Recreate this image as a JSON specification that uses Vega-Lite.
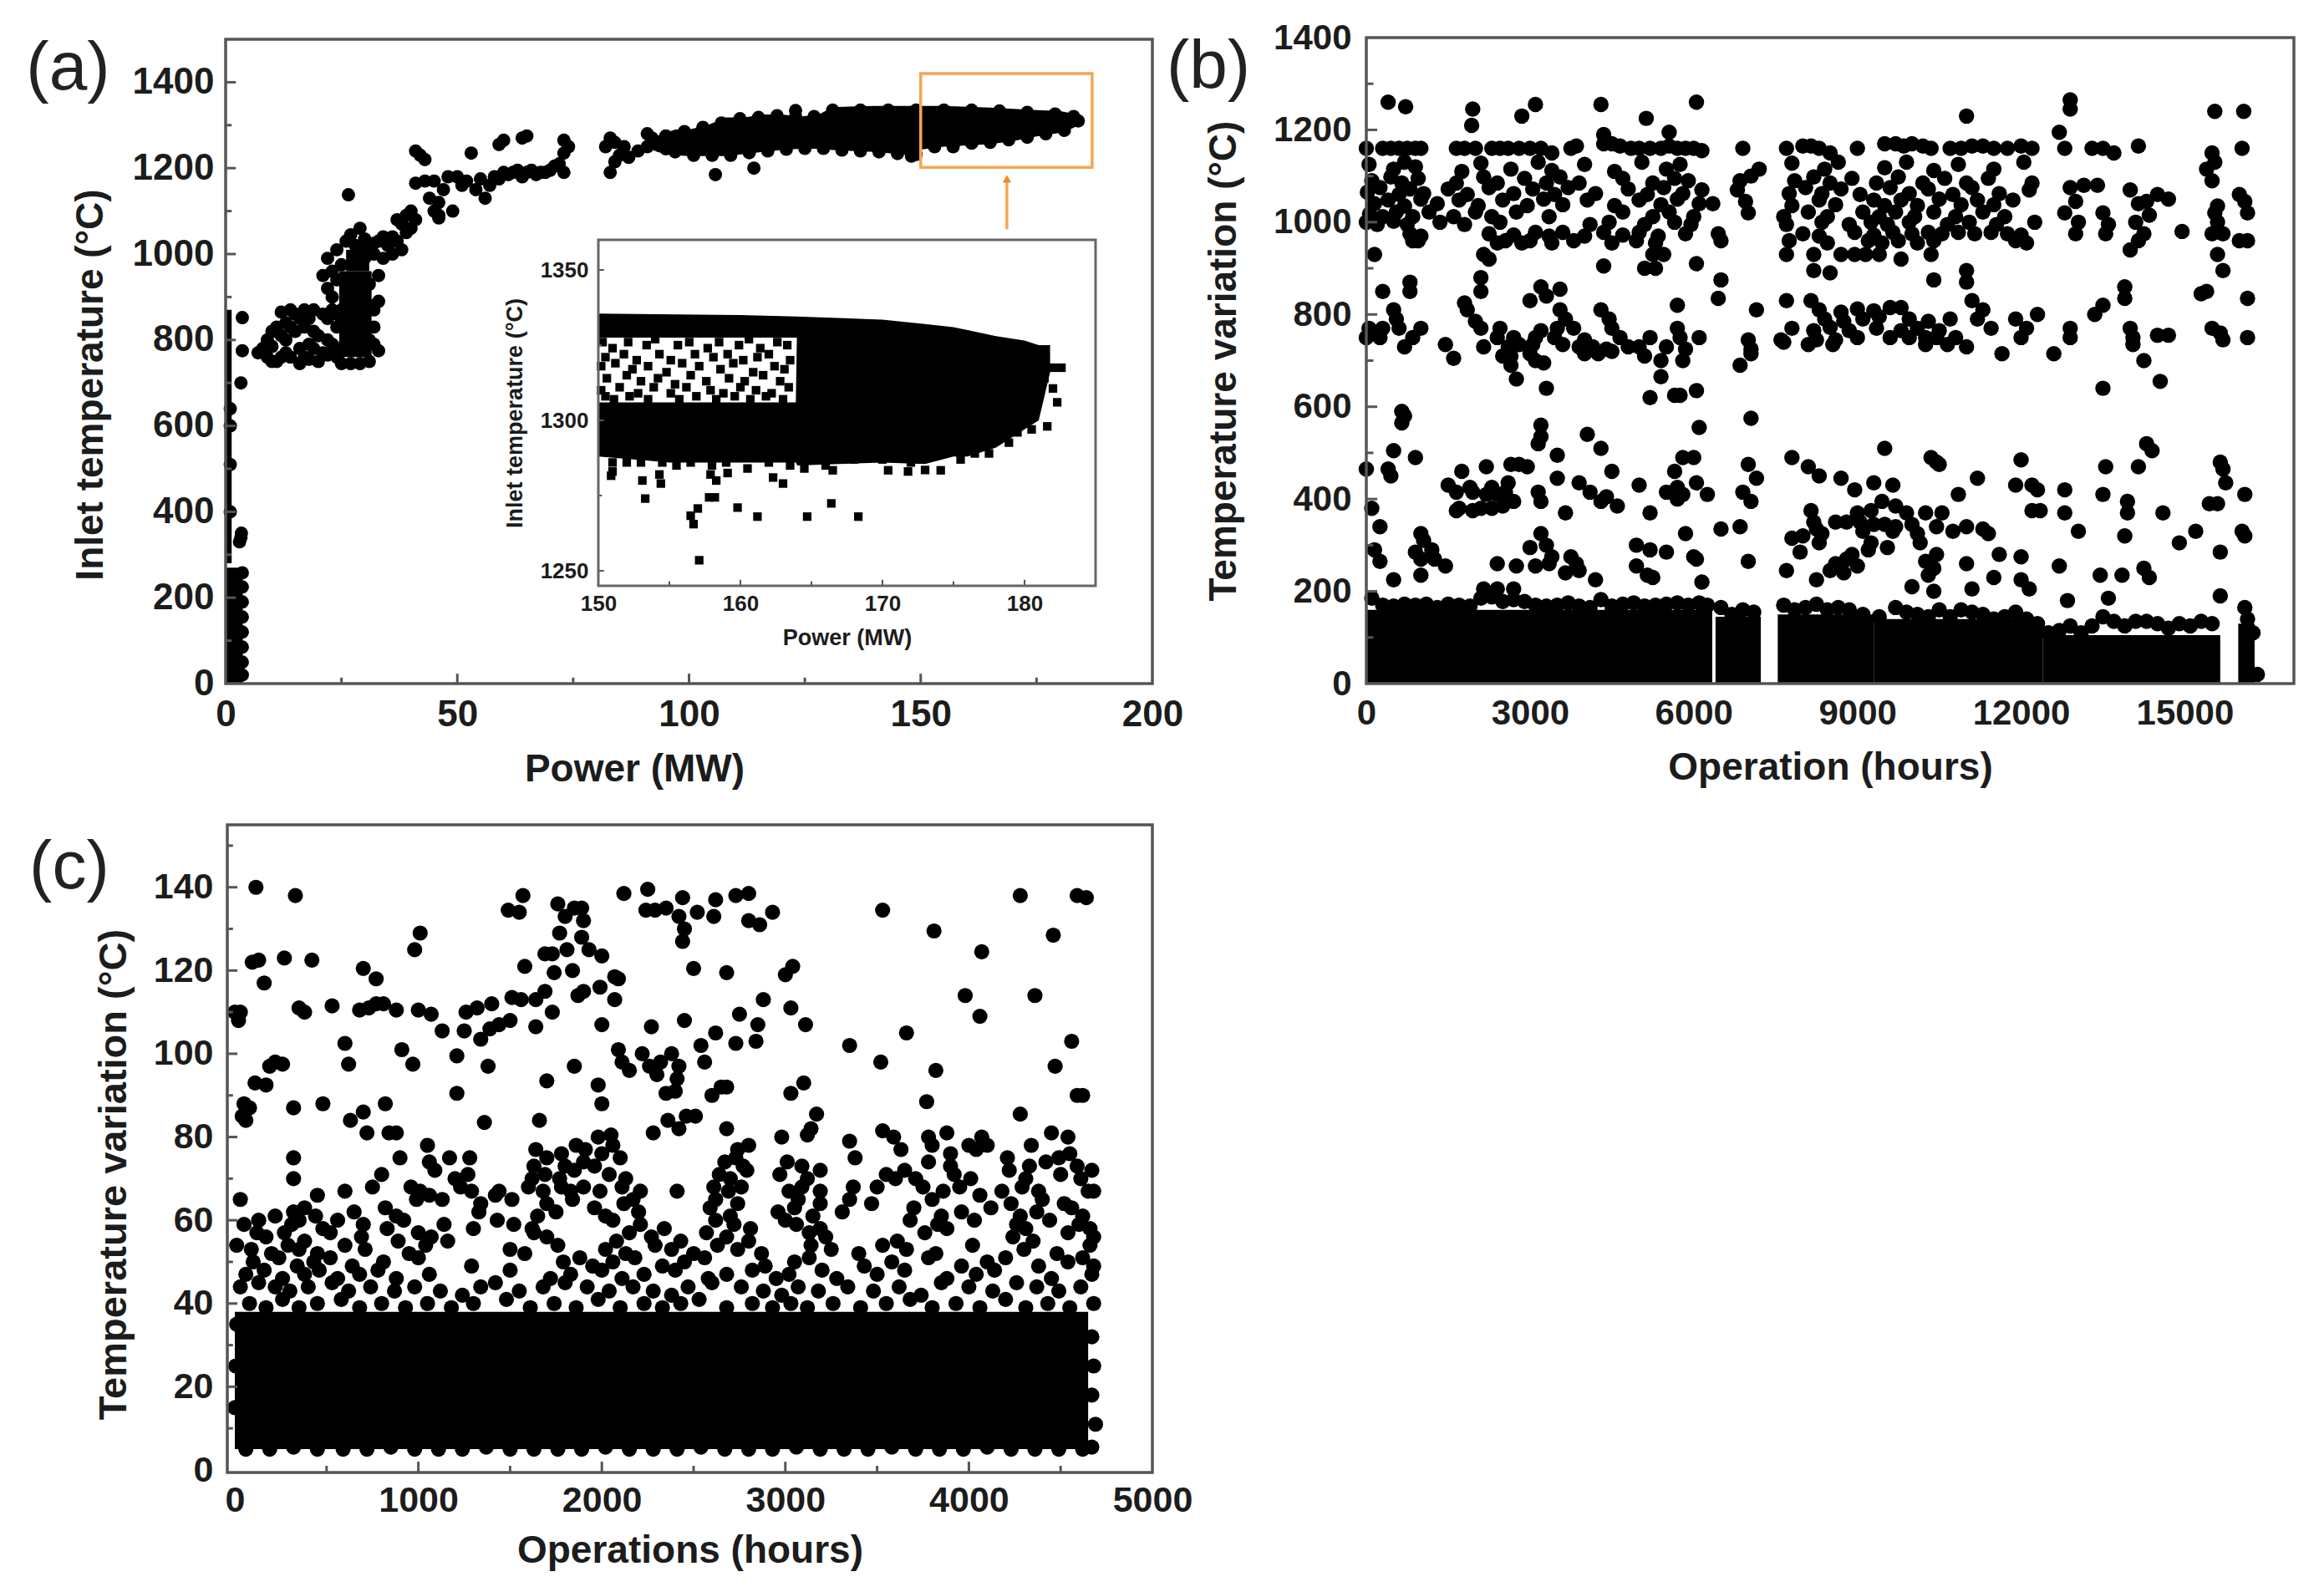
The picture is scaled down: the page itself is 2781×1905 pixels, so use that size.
{"$schema":"https://vega.github.io/schema/vega-lite/v6.json","width":2781,"height":1905,"padding":0,"autosize":{"type":"none"},"background":"white","config":{"view":{"stroke":null},"rule":{"color":"#555555","strokeWidth":3},"axis":{"grid":false,"domain":false,"ticks":false,"format":"d","labelFont":"Liberation Sans","labelFontWeight":"bold","labelFontSize":43,"labelColor":"#1c1c1c","titleFont":"Liberation Sans","titleFontWeight":"bold","titleFontSize":46,"titleColor":"#1c1c1c","labelOverlap":false,"labelFlush":false}},
"resolve":{"scale":{"x":"independent","y":"independent"},"axis":{"x":"independent","y":"independent"}},
"datasets":{
"aPts":[{"x":3.6,"y":852},{"x":3.6,"y":775},{"x":3.3,"y":700},{"x":3.4,"y":350},{"x":3.3,"y":340},{"x":3,"y":330},{"x":1,"y":640},{"x":1,"y":600},{"x":1,"y":510},{"x":1,"y":400},{"x":3.6,"y":20},{"x":3.6,"y":50},{"x":3.6,"y":85},{"x":3.6,"y":120},{"x":3.6,"y":155},{"x":3.6,"y":190},{"x":3.6,"y":225},{"x":3.6,"y":258},{"x":7,"y":770},{"x":9,"y":760},{"x":10,"y":785},{"x":11,"y":830},{"x":12,"y":865},{"x":13,"y":800},{"x":11,"y":750},{"x":14,"y":760},{"x":14,"y":870},{"x":15,"y":820},{"x":16,"y":780},{"x":16,"y":745},{"x":17,"y":760},{"x":18,"y":850},{"x":18,"y":790},{"x":19,"y":870},{"x":20,"y":750},{"x":20,"y":810},{"x":21,"y":770},{"x":21,"y":860},{"x":22,"y":800},{"x":10,"y":750},{"x":12,"y":760},{"x":13,"y":840},{"x":15,"y":860},{"x":17,"y":830},{"x":19,"y":780},{"x":8,"y":780},{"x":22,"y":850},{"x":23,"y":870},{"x":24,"y":860},{"x":25,"y":840},{"x":24,"y":760},{"x":25,"y":745},{"x":27,"y":745},{"x":29,"y":745},{"x":31,"y":750},{"x":33,"y":775},{"x":23,"y":790},{"x":24,"y":780},{"x":33,"y":890},{"x":31,"y":880},{"x":30,"y":860},{"x":32,"y":830},{"x":31,"y":800},{"x":24,"y":830},{"x":25,"y":870},{"x":22,"y":920},{"x":21,"y":950},{"x":22,"y":990},{"x":23,"y":960},{"x":24,"y":1010},{"x":26,"y":1030},{"x":28,"y":1020},{"x":30,"y":1010},{"x":29,"y":1060},{"x":26.5,"y":1138},{"x":30,"y":990},{"x":32,"y":1000},{"x":33,"y":1030},{"x":34,"y":990},{"x":35,"y":1020},{"x":36,"y":1000},{"x":37,"y":1030},{"x":38,"y":1010},{"x":39,"y":1050},{"x":38,"y":1070},{"x":39,"y":1090},{"x":40,"y":1060},{"x":40,"y":1100},{"x":41,"y":1080},{"x":37,"y":1080},{"x":41,"y":1165},{"x":43,"y":1170},{"x":44,"y":1130},{"x":45,"y":1170},{"x":46,"y":1120},{"x":47,"y":1150},{"x":48,"y":1180},{"x":49,"y":1100},{"x":50,"y":1180},{"x":51,"y":1160},{"x":52,"y":1170},{"x":46,"y":1090},{"x":45,"y":1100},{"x":46,"y":1084},{"x":54,"y":1150},{"x":55,"y":1175},{"x":56,"y":1130},{"x":57,"y":1160},{"x":58,"y":1180},{"x":59,"y":1175},{"x":60,"y":1190},{"x":61,"y":1185},{"x":62,"y":1190},{"x":63,"y":1195},{"x":64,"y":1180},{"x":65,"y":1190},{"x":66,"y":1195},{"x":67,"y":1185},{"x":68,"y":1190},{"x":69,"y":1190},{"x":70,"y":1195},{"x":71,"y":1205},{"x":72,"y":1210},{"x":73,"y":1190},{"x":41,"y":1240},{"x":42,"y":1230},{"x":43,"y":1220},{"x":53,"y":1235},{"x":59,"y":1255},{"x":60,"y":1265},{"x":64,"y":1270},{"x":65,"y":1275},{"x":73,"y":1265},{"x":74,"y":1250},{"x":73,"y":1235},{"x":82,"y":1250},{"x":84,"y":1260},{"x":83,"y":1270},{"x":83,"y":1190},{"x":84,"y":1215},{"x":85,"y":1230},{"x":86,"y":1250},{"x":87,"y":1225},{"x":89,"y":1240},{"x":91,"y":1250},{"x":91,"y":1280},{"x":92,"y":1270},{"x":93,"y":1255},{"x":95,"y":1245},{"x":96,"y":1260},{"x":105.7,"y":1185},{"x":114,"y":1200},{"x":123,"y":1334},{"x":157,"y":1250},{"x":148,"y":1228},
{"x":23,"y":900},{"x":24,"y":940},{"x":25,"y":975},{"x":32,"y":870},{"x":32,"y":790},{"x":22,"y":765},{"x":30,"y":1035},{"x":32,"y":1025},{"x":34,"y":1040},{"x":36,"y":1040},{"x":33,"y":950},{"x":31,"y":930},{"x":27,"y":1045},{"x":9,"y":800},{"x":12,"y":810},{"x":14,"y":830},{"x":16,"y":850},{"x":17,"y":870},{"x":19,"y":820},{"x":10,"y":820},{"x":13,"y":770},{"x":18,"y":755},
{"x":95,"y":1275},{"x":99,"y":1285},{"x":103,"y":1295},{"x":107,"y":1305},{"x":111,"y":1315},{"x":115,"y":1318},{"x":119,"y":1322},{"x":123,"y":1320},{"x":127,"y":1320},{"x":131,"y":1335},{"x":137,"y":1335},{"x":143,"y":1335},{"x":149,"y":1335},{"x":155,"y":1335},{"x":161,"y":1335},{"x":167,"y":1333},{"x":173,"y":1330},{"x":179,"y":1326},{"x":183,"y":1320},{"x":97,"y":1238},{"x":101,"y":1230},{"x":105,"y":1230},{"x":109,"y":1230},{"x":113,"y":1236},{"x":117,"y":1240},{"x":121,"y":1244},{"x":125,"y":1246},{"x":129,"y":1246},{"x":133,"y":1242},{"x":137,"y":1240},{"x":141,"y":1238},{"x":145,"y":1234},{"x":149,"y":1232},{"x":153,"y":1250},{"x":157,"y":1256},{"x":161,"y":1258},{"x":165,"y":1260},{"x":169,"y":1266},{"x":173,"y":1272},{"x":177,"y":1280},{"x":181,"y":1288},{"x":184,"y":1310}],
"aBand":[{"g":1,"x":93,"y":1238,"y2":1275},{"g":1,"x":97,"y":1230,"y2":1290},{"g":1,"x":100,"y":1228,"y2":1290},{"g":1,"x":104,"y":1228,"y2":1300},{"g":1,"x":108,"y":1228,"y2":1318},{"g":1,"x":112,"y":1233,"y2":1318},{"g":1,"x":116,"y":1238,"y2":1325},{"g":1,"x":120,"y":1242,"y2":1325},{"g":1,"x":124,"y":1245,"y2":1320},{"g":1,"x":128,"y":1245,"y2":1325},{"g":1,"x":131,"y":1242,"y2":1342},{"g":1,"x":140,"y":1238,"y2":1345},{"g":1,"x":148,"y":1230,"y2":1345},{"g":1,"x":150,"y":1243,"y2":1345},{"g":1,"x":155,"y":1250,"y2":1345},{"g":1,"x":160,"y":1253,"y2":1343},{"g":1,"x":165,"y":1256,"y2":1341},{"g":1,"x":170,"y":1263,"y2":1338},{"g":1,"x":175,"y":1274,"y2":1335},{"g":1,"x":180,"y":1282,"y2":1333},{"g":1,"x":183,"y":1294,"y2":1327},{"g":1,"x":184.5,"y":1305,"y2":1318}],
"aRect":[{"x":0,"x2":1.3,"y":280,"y2":870},{"x":0,"x2":3.7,"y":0,"y2":270},{"x":24.5,"x2":31.5,"y":760,"y2":960},{"x":26,"x2":31,"y":960,"y2":1010}],
"iPts":[{"x":157.1,"y":1253.5},{"x":156.7,"y":1265.5},{"x":156.5,"y":1268.3},{"x":157,"y":1270.7},{"x":157.8,"y":1274.4},{"x":158.2,"y":1274.4},{"x":153.3,"y":1274},{"x":153.1,"y":1280},{"x":154.4,"y":1279},{"x":154.3,"y":1282},{"x":159.8,"y":1271},{"x":161.2,"y":1268},{"x":164.7,"y":1268},{"x":166.4,"y":1272.4},{"x":168.3,"y":1268},{"x":162.3,"y":1281},{"x":163,"y":1279},{"x":159.1,"y":1282.5},{"x":158.3,"y":1280},{"x":157.9,"y":1282},{"x":151,"y":1283},{"x":150.9,"y":1281.6},{"x":170.4,"y":1283.4},{"x":171.8,"y":1283},{"x":173,"y":1283.5},{"x":174.1,"y":1283.4},{"x":166.5,"y":1283.4},{"x":181.6,"y":1298},{"x":182.3,"y":1306},{"x":182,"y":1310.6},{"x":181.4,"y":1314},{"x":182,"y":1317.5},{"x":182.6,"y":1317.5},{"x":178.9,"y":1292.6},{"x":151,"y":1286},{"x":152,"y":1286},{"x":153,"y":1286},{"x":154.5,"y":1286},{"x":155.5,"y":1285},{"x":156.5,"y":1286},{"x":158,"y":1285},{"x":159,"y":1286},{"x":160.5,"y":1284},{"x":162,"y":1286},{"x":163.5,"y":1285},{"x":164.5,"y":1284},{"x":166,"y":1285},{"x":168,"y":1287},{"x":170,"y":1287},{"x":172,"y":1286},{"x":175.5,"y":1287},{"x":176.5,"y":1289},{"x":177.5,"y":1289},{"x":179.5,"y":1296},{"x":180.5,"y":1297},{"x":150.3,"y":1326},{"x":151,"y":1324},{"x":152.1,"y":1326},{"x":153.4,"y":1325},{"x":154,"y":1327},{"x":155.6,"y":1325},{"x":156.4,"y":1326},{"x":157.7,"y":1324},{"x":158.5,"y":1326},{"x":159.9,"y":1325},{"x":160.6,"y":1327},{"x":161.4,"y":1324},{"x":162.6,"y":1326},{"x":163.3,"y":1325},{"x":150.5,"y":1321},{"x":151.8,"y":1322},{"x":152.7,"y":1320},{"x":154.3,"y":1322},{"x":155.1,"y":1320},{"x":156.8,"y":1322},{"x":158.1,"y":1321},{"x":159.1,"y":1322},{"x":160.2,"y":1320},{"x":161.2,"y":1321},{"x":162,"y":1322},{"x":163.5,"y":1320},{"x":150.2,"y":1318},{"x":151.2,"y":1319},{"x":152.4,"y":1317},{"x":153.5,"y":1318},{"x":154.8,"y":1316},{"x":155.9,"y":1319},{"x":157.1,"y":1318},{"x":158.6,"y":1317},{"x":159.5,"y":1319},{"x":160.9,"y":1316},{"x":162.4,"y":1318},{"x":163.1,"y":1317},{"x":150.6,"y":1314},{"x":152,"y":1315},{"x":153,"y":1313},{"x":154.2,"y":1314},{"x":155.4,"y":1312},{"x":156.5,"y":1315},{"x":157.6,"y":1313},{"x":159.2,"y":1314},{"x":160.3,"y":1313},{"x":161.6,"y":1315},{"x":162.8,"y":1313},{"x":150.2,"y":1310},{"x":151.5,"y":1311},{"x":152.8,"y":1309},{"x":153.9,"y":1311},{"x":155.1,"y":1309},{"x":156.2,"y":1311},{"x":157.9,"y":1310},{"x":158.8,"y":1309},{"x":160,"y":1311},{"x":161.1,"y":1310},{"x":162.2,"y":1309},{"x":163.4,"y":1311},{"x":150.5,"y":1308},{"x":151.1,"y":1307},{"x":152.2,"y":1308},{"x":153.5,"y":1307},{"x":155.7,"y":1307},{"x":156.9,"y":1308},{"x":158.3,"y":1307},{"x":159.6,"y":1308},{"x":160.7,"y":1307},{"x":161.8,"y":1308},{"x":163,"y":1307}],
"iBand":[{"g":1,"x":150,"y":1327.5,"y2":1335.5},{"g":1,"x":160,"y":1327.5,"y2":1335},{"g":1,"x":164,"y":1327.5,"y2":1334.5},{"g":2,"x":150,"y":1288,"y2":1306},{"g":2,"x":155,"y":1286,"y2":1306},{"g":2,"x":163.9,"y":1286,"y2":1306},{"g":2,"x":164,"y":1285,"y2":1334.5},{"g":2,"x":170,"y":1286,"y2":1333.5},{"g":2,"x":173,"y":1285.5,"y2":1332},{"g":2,"x":175,"y":1288,"y2":1331},{"g":2,"x":176,"y":1288,"y2":1330},{"g":2,"x":178,"y":1291,"y2":1328},{"g":2,"x":180,"y":1297,"y2":1326.5},{"g":2,"x":181,"y":1300,"y2":1325},{"g":2,"x":181.8,"y":1316,"y2":1325}],
"bRect":[{"x":0,"x2":6340,"y":0,"y2":160},{"x":6400,"x2":7230,"y":0,"y2":145},{"x":7540,"x2":9300,"y":0,"y2":150},{"x":9300,"x2":12400,"y":0,"y2":140},{"x":12400,"x2":15650,"y":0,"y2":105},{"x":15980,"x2":16280,"y":0,"y2":130}],
"bPts":[{"x":400,"y":1260},{"x":720,"y":1250},{"x":1950,"y":1245},{"x":1930,"y":1210},{"x":2850,"y":1230},{"x":3100,"y":1255},{"x":4300,"y":1255},{"x":5130,"y":1225},{"x":6050,"y":1260},{"x":11000,"y":1230},{"x":12900,"y":1265},{"x":12900,"y":1245},{"x":15550,"y":1240},{"x":16080,"y":1240},{"x":12700,"y":1195},{"x":4350,"y":1190},{"x":5550,"y":1195},
{"x":0,"y":1160},{"x":300,"y":1160},{"x":450,"y":1160},{"x":600,"y":1160},{"x":750,"y":1160},{"x":900,"y":1160},{"x":1000,"y":1160},{"x":1650,"y":1160},{"x":1800,"y":1160},{"x":2000,"y":1160},{"x":2300,"y":1160},{"x":2450,"y":1160},{"x":2600,"y":1160},{"x":2800,"y":1160},{"x":3000,"y":1160},{"x":3200,"y":1160},{"x":3400,"y":1150},{"x":3750,"y":1160},{"x":3850,"y":1165},{"x":4350,"y":1170},{"x":4500,"y":1170},{"x":4650,"y":1165},{"x":4850,"y":1160},{"x":5000,"y":1160},{"x":5200,"y":1160},{"x":5400,"y":1160},{"x":5550,"y":1165},{"x":5700,"y":1160},{"x":5850,"y":1160},{"x":6000,"y":1160},{"x":6150,"y":1155},{"x":6900,"y":1160},{"x":7700,"y":1160},{"x":8000,"y":1165},{"x":8150,"y":1165},{"x":8300,"y":1160},{"x":8500,"y":1150},{"x":9000,"y":1160},{"x":9500,"y":1170},{"x":9700,"y":1170},{"x":9850,"y":1165},{"x":10000,"y":1170},{"x":10200,"y":1165},{"x":10350,"y":1160},{"x":10700,"y":1160},{"x":10900,"y":1160},{"x":11100,"y":1165},{"x":11300,"y":1165},{"x":11500,"y":1160},{"x":11750,"y":1160},{"x":12000,"y":1165},{"x":12200,"y":1160},{"x":12800,"y":1160},{"x":13300,"y":1160},{"x":13500,"y":1160},{"x":13700,"y":1150},{"x":14150,"y":1165},{"x":15500,"y":1150},{"x":16050,"y":1160},
{"x":50,"y":1125},{"x":500,"y":1115},{"x":700,"y":1130},{"x":900,"y":1120},{"x":1750,"y":1110},{"x":2100,"y":1128},{"x":2650,"y":1115},{"x":3150,"y":1130},{"x":3400,"y":1112},{"x":4000,"y":1125},{"x":4550,"y":1110},{"x":5050,"y":1130},{"x":5500,"y":1115},{"x":5750,"y":1125},{"x":7200,"y":1115},{"x":7800,"y":1128},{"x":8400,"y":1115},{"x":8650,"y":1130},{"x":9500,"y":1118},{"x":9900,"y":1130},{"x":10400,"y":1112},{"x":10850,"y":1125},{"x":11500,"y":1115},{"x":12050,"y":1130},{"x":15400,"y":1115},{"x":15550,"y":1130},
{"x":100,"y":1090},{"x":450,"y":1098},{"x":650,"y":1085},{"x":950,"y":1095},{"x":1650,"y":1085},{"x":2150,"y":1098},{"x":2400,"y":1085},{"x":2900,"y":1095},{"x":3300,"y":1085},{"x":3550,"y":1098},{"x":3900,"y":1085},{"x":4700,"y":1095},{"x":5250,"y":1085},{"x":5650,"y":1095},{"x":5900,"y":1090},{"x":6850,"y":1090},{"x":7050,"y":1100},{"x":7850,"y":1090},{"x":8200,"y":1098},{"x":8500,"y":1085},{"x":8900,"y":1095},{"x":9350,"y":1085},{"x":9750,"y":1098},{"x":10200,"y":1085},{"x":10600,"y":1095},{"x":11000,"y":1085},{"x":11400,"y":1095},{"x":12200,"y":1085},{"x":15500,"y":1090},
{"x":20,"y":1065},{"x":250,"y":1075},{"x":600,"y":1060},{"x":800,"y":1072},{"x":1050,"y":1062},{"x":1500,"y":1072},{"x":1850,"y":1060},{"x":2250,"y":1075},{"x":2700,"y":1062},{"x":3050,"y":1072},{"x":3450,"y":1060},{"x":3700,"y":1075},{"x":4200,"y":1062},{"x":4800,"y":1072},{"x":5150,"y":1060},{"x":5450,"y":1075},{"x":5800,"y":1062},{"x":6150,"y":1070},{"x":6800,"y":1070},{"x":7750,"y":1062},{"x":8050,"y":1075},{"x":8350,"y":1062},{"x":8700,"y":1072},{"x":9050,"y":1060},{"x":9600,"y":1075},{"x":9950,"y":1062},{"x":10300,"y":1072},{"x":10750,"y":1060},{"x":11100,"y":1075},{"x":11600,"y":1062},{"x":12150,"y":1070},{"x":12900,"y":1075},{"x":13150,"y":1080},{"x":13400,"y":1080},{"x":14000,"y":1070},{"x":14500,"y":1060},
{"x":150,"y":1040},{"x":400,"y":1048},{"x":700,"y":1035},{"x":1000,"y":1050},{"x":1300,"y":1040},{"x":1700,"y":1048},{"x":2050,"y":1036},{"x":2500,"y":1048},{"x":2950,"y":1036},{"x":3250,"y":1050},{"x":3600,"y":1038},{"x":4050,"y":1048},{"x":4550,"y":1036},{"x":5000,"y":1048},{"x":5400,"y":1038},{"x":5700,"y":1050},{"x":6100,"y":1040},{"x":6950,"y":1045},{"x":7800,"y":1036},{"x":8300,"y":1048},{"x":8600,"y":1038},{"x":9300,"y":1048},{"x":9500,"y":1036},{"x":9800,"y":1048},{"x":10100,"y":1036},{"x":10500,"y":1050},{"x":10900,"y":1038},{"x":11200,"y":1048},{"x":11500,"y":1038},{"x":11850,"y":1048},{"x":13000,"y":1045},{"x":14150,"y":1040},{"x":14300,"y":1045},{"x":14700,"y":1050},{"x":15600,"y":1035},{"x":16100,"y":1045},
{"x":60,"y":1018},{"x":300,"y":1012},{"x":550,"y":1022},{"x":850,"y":1012},{"x":1150,"y":1022},{"x":1600,"y":1012},{"x":2000,"y":1022},{"x":2300,"y":1012},{"x":2750,"y":1022},{"x":3350,"y":1012},{"x":4700,"y":1022},{"x":5250,"y":1012},{"x":5550,"y":1022},{"x":6000,"y":1012},{"x":7000,"y":1020},{"x":7650,"y":1012},{"x":8100,"y":1022},{"x":8450,"y":1012},{"x":9100,"y":1022},{"x":9400,"y":1012},{"x":9700,"y":1022},{"x":10050,"y":1012},{"x":10400,"y":1022},{"x":10800,"y":1012},{"x":11300,"y":1022},{"x":11700,"y":1012},{"x":12800,"y":1020},{"x":13500,"y":1020},{"x":14350,"y":1015},{"x":15550,"y":1020},{"x":16150,"y":1020},
{"x":0,"y":1000},{"x":200,"y":995},{"x":500,"y":1002},{"x":750,"y":995},{"x":1350,"y":1000},{"x":1800,"y":995},{"x":2450,"y":1000},{"x":4100,"y":995},{"x":4450,"y":1000},{"x":5100,"y":995},{"x":5650,"y":1000},{"x":5950,"y":995},{"x":6350,"y":1040},{"x":7700,"y":995},{"x":8350,"y":1000},{"x":8850,"y":995},{"x":9250,"y":1000},{"x":9550,"y":995},{"x":9950,"y":1000},{"x":10650,"y":995},{"x":11050,"y":1000},{"x":11550,"y":995},{"x":12250,"y":1000},{"x":13050,"y":1000},{"x":13600,"y":995},{"x":14100,"y":1000},{"x":15600,"y":1000},{"x":16000,"y":1060},
{"x":800,"y":975},{"x":1000,"y":970},{"x":2250,"y":975},{"x":2700,"y":972},{"x":3100,"y":978},{"x":3350,"y":970},{"x":3600,"y":978},{"x":4000,"y":970},{"x":4350,"y":978},{"x":4700,"y":972},{"x":5000,"y":978},{"x":5350,"y":970},{"x":5850,"y":975},{"x":6450,"y":975},{"x":8000,"y":975},{"x":8300,"y":970},{"x":8950,"y":978},{"x":9300,"y":972},{"x":9650,"y":978},{"x":10000,"y":975},{"x":10300,"y":978},{"x":10550,"y":975},{"x":10850,"y":978},{"x":11150,"y":975},{"x":11450,"y":978},{"x":11750,"y":975},{"x":12000,"y":972},{"x":13000,"y":975},{"x":13550,"y":975},{"x":14250,"y":975},{"x":15500,"y":975},{"x":15700,"y":975},
{"x":850,"y":960},{"x":950,"y":960},{"x":2400,"y":955},{"x":2550,"y":960},{"x":2850,"y":955},{"x":3000,"y":960},{"x":3400,"y":955},{"x":3800,"y":960},{"x":4500,"y":955},{"x":4950,"y":960},{"x":5300,"y":955},{"x":6500,"y":960},{"x":7750,"y":960},{"x":8450,"y":955},{"x":9200,"y":960},{"x":9450,"y":955},{"x":9750,"y":960},{"x":10100,"y":955},{"x":10400,"y":960},{"x":11900,"y":960},{"x":12100,"y":955},{"x":14150,"y":960},{"x":14950,"y":980},{"x":16000,"y":960},{"x":16150,"y":960},
{"x":150,"y":930},{"x":2150,"y":930},{"x":2250,"y":920},{"x":5250,"y":930},{"x":5450,"y":930},{"x":5100,"y":900},{"x":7700,"y":930},{"x":8200,"y":930},{"x":8700,"y":930},{"x":8950,"y":930},{"x":9150,"y":930},{"x":9400,"y":930},{"x":10350,"y":930},{"x":9800,"y":920},{"x":15600,"y":930},{"x":14000,"y":940},{"x":4350,"y":905},{"x":6050,"y":910},{"x":5300,"y":900},{"x":8200,"y":895},{"x":8500,"y":890},{"x":15700,"y":895},{"x":11000,"y":895},
{"x":800,"y":870},{"x":3200,"y":860},{"x":3550,"y":855},{"x":6500,"y":875},{"x":11000,"y":870},{"x":2100,"y":880},{"x":10400,"y":875},{"x":300,"y":850},{"x":800,"y":850},{"x":2100,"y":850},{"x":3300,"y":840},{"x":6450,"y":835},{"x":13900,"y":860},{"x":15400,"y":850},{"x":1800,"y":825},{"x":3000,"y":830},{"x":7700,"y":830},{"x":8150,"y":830},{"x":11100,"y":830},{"x":13900,"y":835},{"x":15300,"y":845},{"x":16150,"y":835},
{"x":500,"y":810},{"x":1850,"y":810},{"x":3550,"y":810},{"x":5700,"y":820},{"x":7150,"y":810},{"x":8300,"y":810},{"x":8700,"y":805},{"x":9000,"y":812},{"x":9300,"y":808},{"x":9600,"y":815},{"x":9800,"y":815},{"x":11300,"y":810},{"x":12300,"y":800},{"x":13500,"y":820},{"x":4300,"y":810},{"x":550,"y":790},{"x":2000,"y":785},{"x":3650,"y":790},{"x":4450,"y":790},{"x":8400,"y":790},{"x":8750,"y":785},{"x":9100,"y":790},{"x":9400,"y":795},{"x":9950,"y":790},{"x":10300,"y":785},{"x":10700,"y":790},{"x":11200,"y":790},{"x":11900,"y":790},{"x":13350,"y":800},
{"x":50,"y":770},{"x":300,"y":770},{"x":600,"y":770},{"x":1000,"y":770},{"x":2100,"y":770},{"x":2450,"y":770},{"x":3200,"y":765},{"x":3500,"y":770},{"x":3800,"y":770},{"x":4500,"y":770},{"x":5700,"y":770},{"x":7800,"y":770},{"x":8200,"y":765},{"x":8500,"y":772},{"x":8850,"y":765},{"x":9350,"y":770},{"x":9800,"y":765},{"x":10100,"y":770},{"x":10500,"y":765},{"x":11450,"y":770},{"x":12100,"y":770},{"x":12900,"y":770},{"x":14000,"y":770},{"x":14500,"y":755},{"x":14700,"y":755},{"x":15500,"y":770},{"x":15650,"y":760},
{"x":0,"y":750},{"x":250,"y":750},{"x":850,"y":750},{"x":2400,"y":750},{"x":2700,"y":750},{"x":3100,"y":750},{"x":3450,"y":750},{"x":4000,"y":745},{"x":4650,"y":750},{"x":5200,"y":750},{"x":5750,"y":750},{"x":6100,"y":750},{"x":7000,"y":745},{"x":7600,"y":745},{"x":8250,"y":745},{"x":8600,"y":745},{"x":9000,"y":750},{"x":9600,"y":750},{"x":9950,"y":750},{"x":10250,"y":750},{"x":10450,"y":750},{"x":10800,"y":750},{"x":12000,"y":750},{"x":12900,"y":750},{"x":14050,"y":750},{"x":16150,"y":750},{"x":15700,"y":745},
{"x":700,"y":730},{"x":1450,"y":735},{"x":2150,"y":730},{"x":2600,"y":730},{"x":2800,"y":735},{"x":3050,"y":735},{"x":3600,"y":735},{"x":3900,"y":730},{"x":4150,"y":730},{"x":4400,"y":725},{"x":4800,"y":730},{"x":5000,"y":730},{"x":5500,"y":730},{"x":5850,"y":725},{"x":7050,"y":725},{"x":7650,"y":740},{"x":8100,"y":735},{"x":8550,"y":735},{"x":10250,"y":735},{"x":10650,"y":735},{"x":11000,"y":730},{"x":14050,"y":735},
{"x":1600,"y":705},{"x":2500,"y":710},{"x":2650,"y":710},{"x":3000,"y":715},{"x":3100,"y":700},{"x":4000,"y":715},{"x":4250,"y":715},{"x":4500,"y":720},{"x":5100,"y":710},{"x":5400,"y":700},{"x":5800,"y":700},{"x":6850,"y":690},{"x":7050,"y":715},{"x":11650,"y":715},{"x":12600,"y":715},{"x":3250,"y":695},{"x":2650,"y":690},{"x":14250,"y":700},{"x":2750,"y":660},{"x":3300,"y":640},{"x":5400,"y":665},{"x":14550,"y":655},{"x":13500,"y":640},{"x":5200,"y":620},{"x":6050,"y":635},{"x":5650,"y":625},{"x":5750,"y":625},
{"x":650,"y":590},{"x":700,"y":580},{"x":650,"y":565},{"x":7050,"y":575},{"x":6100,"y":555},{"x":3200,"y":560},{"x":3200,"y":535},{"x":4050,"y":540},{"x":3150,"y":520},{"x":4300,"y":510},{"x":500,"y":505},{"x":900,"y":490},{"x":3500,"y":495},{"x":5800,"y":490},{"x":6000,"y":490},{"x":7800,"y":490},{"x":9500,"y":510},{"x":10350,"y":490},{"x":14400,"y":505},{"x":14300,"y":520},{"x":15650,"y":480},{"x":12000,"y":485},
{"x":0,"y":465},{"x":400,"y":465},{"x":2200,"y":470},{"x":2650,"y":475},{"x":2800,"y":475},{"x":2950,"y":470},{"x":5650,"y":460},{"x":8100,"y":470},{"x":10450,"y":480},{"x":13550,"y":470},{"x":14150,"y":470},{"x":15700,"y":465},{"x":450,"y":450},{"x":1750,"y":460},{"x":4500,"y":460},{"x":7000,"y":475},{"x":7150,"y":445},{"x":8300,"y":450},{"x":8700,"y":445},{"x":10500,"y":475},{"x":11200,"y":445},
{"x":1500,"y":430},{"x":1900,"y":425},{"x":2300,"y":425},{"x":2600,"y":435},{"x":3500,"y":445},{"x":3900,"y":435},{"x":5000,"y":430},{"x":5700,"y":425},{"x":6050,"y":435},{"x":8950,"y":420},{"x":9300,"y":435},{"x":9650,"y":430},{"x":11900,"y":430},{"x":12200,"y":430},{"x":15750,"y":435},{"x":1650,"y":415},{"x":1950,"y":415},{"x":2200,"y":410},{"x":2400,"y":410},{"x":2550,"y":415},{"x":3150,"y":415},{"x":4100,"y":415},{"x":4400,"y":405},{"x":5500,"y":415},{"x":5800,"y":410},{"x":6250,"y":410},{"x":6900,"y":415},{"x":10850,"y":410},{"x":12300,"y":420},{"x":12800,"y":420},{"x":13500,"y":410},{"x":16100,"y":410},
{"x":100,"y":380},{"x":1700,"y":380},{"x":2100,"y":380},{"x":2500,"y":385},{"x":2700,"y":395},{"x":3200,"y":395},{"x":4300,"y":395},{"x":4600,"y":385},{"x":5200,"y":370},{"x":5700,"y":400},{"x":7050,"y":395},{"x":9000,"y":370},{"x":9450,"y":395},{"x":9700,"y":385},{"x":13950,"y":395},{"x":15450,"y":390},{"x":15600,"y":390},{"x":1650,"y":375},{"x":1950,"y":375},{"x":2300,"y":380},{"x":3650,"y":370},{"x":8150,"y":375},{"x":9250,"y":375},{"x":9900,"y":370},{"x":10250,"y":370},{"x":10550,"y":370},{"x":12350,"y":375},{"x":12200,"y":375},{"x":12800,"y":370},{"x":13950,"y":370},{"x":14600,"y":370},
{"x":8200,"y":350},{"x":8600,"y":350},{"x":8800,"y":350},{"x":9050,"y":350},{"x":9300,"y":345},{"x":9500,"y":345},{"x":9700,"y":340},{"x":10000,"y":345},{"x":10450,"y":340},{"x":6500,"y":335},{"x":6850,"y":340},{"x":8250,"y":335},{"x":250,"y":340},{"x":1000,"y":325},{"x":8000,"y":320},{"x":8350,"y":325},{"x":9100,"y":330},{"x":9650,"y":330},{"x":10100,"y":325},{"x":10750,"y":330},{"x":11000,"y":340},{"x":11300,"y":335},{"x":11400,"y":325},{"x":13050,"y":330},{"x":15200,"y":330},{"x":16050,"y":330},{"x":16100,"y":320},{"x":1050,"y":310},{"x":3200,"y":325},{"x":5850,"y":325},{"x":7800,"y":315},{"x":8300,"y":305},{"x":9250,"y":305},{"x":10150,"y":305},{"x":13900,"y":320},{"x":14900,"y":305},{"x":15650,"y":285},
{"x":150,"y":290},{"x":900,"y":285},{"x":1200,"y":290},{"x":3000,"y":295},{"x":3300,"y":300},{"x":4950,"y":300},{"x":5200,"y":290},{"x":5500,"y":285},{"x":6050,"y":270},{"x":7950,"y":285},{"x":8900,"y":280},{"x":9200,"y":290},{"x":9550,"y":295},{"x":10250,"y":265},{"x":10450,"y":280},{"x":11600,"y":280},{"x":250,"y":265},{"x":1000,"y":270},{"x":1250,"y":270},{"x":3400,"y":275},{"x":3750,"y":275},{"x":6000,"y":275},{"x":8500,"y":245},{"x":8800,"y":270},{"x":9000,"y":255},{"x":12000,"y":275},{"x":1450,"y":255},{"x":2400,"y":260},{"x":2750,"y":255},{"x":3100,"y":255},{"x":3350,"y":260},{"x":3850,"y":260},{"x":4950,"y":255},{"x":7000,"y":265},{"x":8600,"y":260},{"x":10400,"y":250},{"x":11000,"y":260},{"x":12700,"y":255},{"x":13450,"y":235},{"x":13850,"y":235},{"x":14250,"y":250},{"x":1000,"y":235},{"x":3650,"y":240},{"x":3900,"y":245},{"x":5150,"y":235},{"x":8750,"y":240},{"x":10300,"y":235},{"x":7700,"y":245},{"x":500,"y":225},{"x":4200,"y":225},{"x":5250,"y":230},{"x":8250,"y":225},{"x":11500,"y":230},{"x":14350,"y":230},{"x":12000,"y":225},{"x":6150,"y":220},{"x":2150,"y":205},{"x":2400,"y":205},{"x":2700,"y":205},{"x":10000,"y":210},{"x":10400,"y":200},{"x":11100,"y":205},{"x":12150,"y":205},{"x":12850,"y":180},{"x":15650,"y":190},{"x":13600,"y":185},
{"x":100,"y":185},{"x":300,"y":170},{"x":500,"y":168},{"x":700,"y":172},{"x":900,"y":170},{"x":1100,"y":172},{"x":1300,"y":165},{"x":1500,"y":172},{"x":1700,"y":170},{"x":1900,"y":168},{"x":2100,"y":185},{"x":2300,"y":188},{"x":2500,"y":178},{"x":2700,"y":182},{"x":2900,"y":178},{"x":3100,"y":170},{"x":3300,"y":168},{"x":3500,"y":170},{"x":3700,"y":175},{"x":3900,"y":168},{"x":4100,"y":165},{"x":4300,"y":182},{"x":4500,"y":168},{"x":4700,"y":172},{"x":4900,"y":175},{"x":5100,"y":168},{"x":5300,"y":170},{"x":5500,"y":172},{"x":5700,"y":175},{"x":5900,"y":170},{"x":6100,"y":175},{"x":6250,"y":170},{"x":6500,"y":165},{"x":6700,"y":150},{"x":6900,"y":160},{"x":7100,"y":155},{"x":7650,"y":170},{"x":7850,"y":160},{"x":8050,"y":165},{"x":8250,"y":172},{"x":8450,"y":160},{"x":8650,"y":165},{"x":8850,"y":160},{"x":9100,"y":150},{"x":9400,"y":145},{"x":9700,"y":165},{"x":9900,"y":155},{"x":10100,"y":150},{"x":10300,"y":145},{"x":10500,"y":160},{"x":10700,"y":145},{"x":10900,"y":160},{"x":11100,"y":155},{"x":11300,"y":150},{"x":11500,"y":140},{"x":11700,"y":145},{"x":11900,"y":155},{"x":12100,"y":140},{"x":12300,"y":130},{"x":12500,"y":110},{"x":12700,"y":115},{"x":12900,"y":125},{"x":13100,"y":110},{"x":13300,"y":125},{"x":13500,"y":145},{"x":13700,"y":135},{"x":13900,"y":125},{"x":14100,"y":135},{"x":14300,"y":135},{"x":14500,"y":130},{"x":14700,"y":120},{"x":14900,"y":130},{"x":15100,"y":125},{"x":15300,"y":135},{"x":15500,"y":130},{"x":16100,"y":165},{"x":16150,"y":140},{"x":16250,"y":110},{"x":16330,"y":20}],
"cRect":[{"x":0,"x2":4650,"y":5,"y2":38}],
"cPts":[{"x":115,"y":140},{"x":330,"y":138},{"x":1490,"y":134.5},{"x":1550,"y":134},{"x":1570,"y":138},{"x":1760,"y":136},{"x":1800,"y":133},{"x":1850,"y":135},{"x":1890,"y":135},{"x":1900,"y":132},{"x":1890,"y":128},{"x":2120,"y":138.5},{"x":2250,"y":139.5},{"x":2240,"y":134.5},{"x":2290,"y":134.5},{"x":2350,"y":135},{"x":2440,"y":137.5},{"x":2420,"y":133},{"x":2450,"y":130},{"x":2440,"y":127},{"x":2520,"y":134},{"x":2620,"y":137},{"x":2610,"y":133},{"x":2730,"y":138},{"x":2800,"y":138.5},{"x":2800,"y":132},{"x":2860,"y":131},{"x":2930,"y":134},{"x":3530,"y":134.5},{"x":3810,"y":129.5},{"x":4280,"y":138},{"x":4590,"y":138},{"x":4640,"y":137.5},{"x":4460,"y":128.5},{"x":4070,"y":124.5},{"x":4360,"y":114},{"x":3980,"y":114},{"x":4060,"y":109},{"x":4560,"y":103},{"x":4470,"y":97},{"x":3820,"y":96},{"x":3770,"y":88.5},{"x":4280,"y":85.5},{"x":4590,"y":90},{"x":4620,"y":90},{"x":980,"y":125},{"x":1010,"y":129},{"x":95,"y":122},{"x":130,"y":122.5},{"x":270,"y":123},{"x":420,"y":122.5},{"x":700,"y":120.5},{"x":770,"y":118},{"x":160,"y":117},{"x":1580,"y":121},{"x":1690,"y":124},{"x":1730,"y":124},{"x":1810,"y":125},{"x":1770,"y":129},{"x":1740,"y":119.5},{"x":1840,"y":120},{"x":2000,"y":123.5},{"x":1930,"y":125},{"x":2090,"y":118},{"x":2070,"y":118.5},{"x":2680,"y":119.5},{"x":2500,"y":120.5},{"x":3000,"y":119},{"x":3040,"y":121},{"x":0,"y":110},{"x":30,"y":110},{"x":20,"y":108},{"x":350,"y":111},{"x":380,"y":110},{"x":530,"y":111.5},{"x":680,"y":110.5},{"x":730,"y":111},{"x":770,"y":112},{"x":810,"y":112},{"x":880,"y":110.5},{"x":1000,"y":110.5},{"x":1070,"y":109.5},{"x":1130,"y":105.5},{"x":1250,"y":105.5},{"x":1260,"y":110},{"x":1320,"y":111},{"x":1400,"y":112},{"x":1440,"y":107},{"x":1390,"y":106},{"x":1500,"y":108},{"x":1510,"y":113.5},{"x":1560,"y":113},{"x":1640,"y":113},{"x":1690,"y":115},{"x":1730,"y":110},{"x":1640,"y":106.5},{"x":1340,"y":103.5},{"x":1900,"y":115},{"x":1990,"y":116},{"x":1870,"y":114},{"x":2070,"y":113},{"x":2000,"y":107},{"x":2270,"y":106.5},{"x":2450,"y":108},{"x":2750,"y":109.5},{"x":2850,"y":107},{"x":2840,"y":103},{"x":2880,"y":113},{"x":3030,"y":111},{"x":3110,"y":107},{"x":2620,"y":105},{"x":2540,"y":102},{"x":2730,"y":102.5},{"x":3350,"y":102},{"x":3660,"y":105},{"x":600,"y":102.5},{"x":620,"y":97.5},{"x":910,"y":101},{"x":970,"y":97.5},{"x":1210,"y":99.5},{"x":1380,"y":97},{"x":1850,"y":97},{"x":2090,"y":101},{"x":2110,"y":98},{"x":2150,"y":96},{"x":2220,"y":100},{"x":2260,"y":97},{"x":2300,"y":95},{"x":2320,"y":98},{"x":2380,"y":100},{"x":2420,"y":97},{"x":2410,"y":94},{"x":2560,"y":98},{"x":3520,"y":98},{"x":60,"y":84},{"x":40,"y":85},{"x":50,"y":88},{"x":80,"y":87},{"x":110,"y":93},{"x":170,"y":92.5},{"x":190,"y":97},{"x":220,"y":98},{"x":260,"y":97.5},{"x":320,"y":87},{"x":480,"y":88},{"x":630,"y":84},{"x":700,"y":86},{"x":720,"y":81},{"x":820,"y":88},{"x":1210,"y":90.5},{"x":1700,"y":93.5},{"x":1980,"y":92.5},{"x":2000,"y":88},{"x":2350,"y":90.5},{"x":2400,"y":91},{"x":2600,"y":90},{"x":2650,"y":92},{"x":2680,"y":92},{"x":3030,"y":90.5},{"x":3100,"y":93},{"x":1360,"y":83.5},{"x":1660,"y":84},{"x":2460,"y":85},{"x":2360,"y":84},{"x":2420,"y":82},{"x":2510,"y":85},{"x":2280,"y":81},{"x":2680,"y":82},{"x":3170,"y":85.5},{"x":3140,"y":82},{"x":3120,"y":80.5},{"x":2980,"y":80},{"x":2050,"y":80.5},{"x":1980,"y":80},{"x":3350,"y":79},{"x":3530,"y":81.5},{"x":3590,"y":80},{"x":840,"y":81},{"x":880,"y":81},{"x":3780,"y":80},{"x":3880,"y":81},{"x":4000,"y":78},{"x":4070,"y":80},{"x":4100,"y":78},{"x":4450,"y":81},{"x":4540,"y":80},
{"x":1050,"y":78},{"x":1640,"y":77},{"x":1780,"y":76},{"x":1860,"y":78},{"x":1910,"y":77},{"x":2000,"y":76},{"x":2060,"y":78},{"x":2740,"y":77},{"x":2800,"y":78},{"x":3630,"y":77},{"x":3800,"y":78},{"x":3900,"y":76},{"x":4040,"y":77},{"x":4340,"y":78},{"x":4550,"y":76},
{"x":320,"y":75},{"x":900,"y":75},{"x":1060,"y":74},{"x":1170,"y":75},{"x":1280,"y":75},{"x":1630,"y":73},{"x":1700,"y":75},{"x":1800,"y":73},{"x":1900,"y":74},{"x":1960,"y":73},{"x":2100,"y":75},{"x":2670,"y":74},{"x":2730,"y":75},{"x":2770,"y":73},{"x":3010,"y":74},{"x":3090,"y":73},{"x":3380,"y":75},{"x":3780,"y":74},{"x":3900,"y":73},{"x":4210,"y":75},{"x":4330,"y":73},{"x":4420,"y":74},{"x":4490,"y":75},{"x":4590,"y":73},
{"x":800,"y":71},{"x":1090,"y":72},{"x":1200,"y":70},{"x":1270,"y":71},{"x":1620,"y":70},{"x":1690,"y":71},{"x":1770,"y":70},{"x":1850,"y":72},{"x":2040,"y":71},{"x":2130,"y":70},{"x":2640,"y":71},{"x":2700,"y":70},{"x":2790,"y":72},{"x":2970,"y":71},{"x":3120,"y":70},{"x":3190,"y":72},{"x":3550,"y":71},{"x":3650,"y":72},{"x":3710,"y":70},{"x":3920,"y":71},{"x":4010,"y":70},{"x":4220,"y":72},{"x":4310,"y":70},{"x":4500,"y":71},{"x":4610,"y":70},{"x":4670,"y":72},
{"x":320,"y":70},{"x":960,"y":68},{"x":1010,"y":67},{"x":1230,"y":68},{"x":1290,"y":67},{"x":1440,"y":67},{"x":1600,"y":68},{"x":1680,"y":67},{"x":1780,"y":68},{"x":1830,"y":67},{"x":1900,"y":68},{"x":1990,"y":67},{"x":2110,"y":68},{"x":2210,"y":67},{"x":2610,"y":68},{"x":2690,"y":67},{"x":2760,"y":68},{"x":3020,"y":67},{"x":3090,"y":68},{"x":3190,"y":67},{"x":3370,"y":68},{"x":3500,"y":68},{"x":3600,"y":70},{"x":3750,"y":68},{"x":3860,"y":67},{"x":3950,"y":68},{"x":4180,"y":67},{"x":4290,"y":68},{"x":4380,"y":67},{"x":4650,"y":67},
{"x":30,"y":65},{"x":600,"y":67},{"x":750,"y":68},{"x":450,"y":66},{"x":990,"y":65},{"x":1060,"y":66},{"x":1130,"y":65},{"x":1340,"y":64},{"x":1420,"y":66},{"x":1510,"y":65},{"x":1700,"y":64},{"x":1840,"y":65},{"x":2120,"y":64},{"x":2170,"y":65},{"x":2410,"y":67},{"x":2620,"y":65},{"x":2740,"y":64},{"x":3070,"y":65},{"x":3190,"y":64},{"x":3350,"y":65},{"x":3470,"y":64},{"x":3800,"y":65},{"x":4060,"y":66},{"x":4230,"y":64},{"x":4400,"y":65},{"x":4520,"y":64},{"x":4680,"y":67},
{"x":320,"y":62},{"x":380,"y":63},{"x":440,"y":61},{"x":650,"y":62},{"x":820,"y":63},{"x":880,"y":61},{"x":1330,"y":62},{"x":1650,"y":61},{"x":1750,"y":62},{"x":1960,"y":63},{"x":2020,"y":61},{"x":2200,"y":62},{"x":2590,"y":63},{"x":2700,"y":61},{"x":2960,"y":62},{"x":3050,"y":63},{"x":3150,"y":61},{"x":3310,"y":62},{"x":3700,"y":63},{"x":3850,"y":61},{"x":3960,"y":62},{"x":4120,"y":63},{"x":4280,"y":61},{"x":4370,"y":62},{"x":4560,"y":63},{"x":4620,"y":61},
{"x":50,"y":59},{"x":130,"y":60},{"x":220,"y":61},{"x":310,"y":59},{"x":350,"y":60},{"x":480,"y":58},{"x":560,"y":60},{"x":700,"y":59},{"x":830,"y":58},{"x":920,"y":60},{"x":1140,"y":59},{"x":1300,"y":58},{"x":1430,"y":60},{"x":1520,"y":59},{"x":1620,"y":58},{"x":2060,"y":60},{"x":2210,"y":59},{"x":2340,"y":58},{"x":2620,"y":60},{"x":2720,"y":59},{"x":2810,"y":58},{"x":3000,"y":60},{"x":3060,"y":59},{"x":3190,"y":58},{"x":3680,"y":60},{"x":3830,"y":59},{"x":3880,"y":58},{"x":4030,"y":60},{"x":4260,"y":59},{"x":4310,"y":58},{"x":4440,"y":60},{"x":4600,"y":59},{"x":4660,"y":58},
{"x":120,"y":57},{"x":170,"y":56},{"x":270,"y":57},{"x":380,"y":55},{"x":520,"y":57},{"x":690,"y":56},{"x":890,"y":55},{"x":1000,"y":57},{"x":1070,"y":56},{"x":1160,"y":55},{"x":1630,"y":57},{"x":1700,"y":56},{"x":2080,"y":55},{"x":2150,"y":57},{"x":2270,"y":56},{"x":2430,"y":55},{"x":2570,"y":57},{"x":2680,"y":56},{"x":2800,"y":55},{"x":3130,"y":57},{"x":3220,"y":56},{"x":3610,"y":55},{"x":3760,"y":57},{"x":4240,"y":56},{"x":4350,"y":55},{"x":4540,"y":57},{"x":4680,"y":56},
{"x":10,"y":54},{"x":90,"y":53},{"x":200,"y":52},{"x":290,"y":54},{"x":350,"y":53},{"x":450,"y":52},{"x":600,"y":54},{"x":710,"y":53},{"x":950,"y":52},{"x":1040,"y":54},{"x":1500,"y":53},{"x":1580,"y":52},{"x":1760,"y":54},{"x":2020,"y":53},{"x":2130,"y":52},{"x":2290,"y":54},{"x":2380,"y":53},{"x":2500,"y":52},{"x":2630,"y":54},{"x":2740,"y":53},{"x":2870,"y":52},{"x":3140,"y":54},{"x":3250,"y":53},{"x":3400,"y":52},{"x":3530,"y":54},{"x":3660,"y":53},{"x":3820,"y":52},{"x":4020,"y":54},{"x":4300,"y":53},{"x":4480,"y":52},{"x":4660,"y":54},
{"x":100,"y":50},{"x":240,"y":51},{"x":340,"y":49},{"x":430,"y":50},{"x":520,"y":51},{"x":640,"y":49},{"x":810,"y":50},{"x":1000,"y":51},{"x":1290,"y":49},{"x":1790,"y":50},{"x":1880,"y":51},{"x":1950,"y":49},{"x":2060,"y":50},{"x":2180,"y":51},{"x":2330,"y":49},{"x":2450,"y":50},{"x":2560,"y":51},{"x":2890,"y":49},{"x":3050,"y":50},{"x":3130,"y":51},{"x":3430,"y":49},{"x":3580,"y":50},{"x":3780,"y":51},{"x":3960,"y":49},{"x":4100,"y":50},{"x":4200,"y":51},{"x":4380,"y":49},{"x":4540,"y":50},{"x":4620,"y":51},{"x":4680,"y":49},
{"x":60,"y":47},{"x":160,"y":48},{"x":260,"y":46},{"x":380,"y":47},{"x":460,"y":48},{"x":560,"y":46},{"x":680,"y":47},{"x":780,"y":48},{"x":880,"y":46},{"x":1060,"y":47},{"x":1500,"y":48},{"x":1720,"y":46},{"x":1830,"y":47},{"x":2000,"y":48},{"x":2110,"y":46},{"x":2230,"y":47},{"x":2400,"y":48},{"x":2580,"y":46},{"x":2680,"y":47},{"x":2820,"y":48},{"x":2950,"y":46},{"x":3020,"y":47},{"x":3200,"y":48},{"x":3280,"y":46},{"x":3500,"y":47},{"x":3650,"y":48},{"x":3880,"y":46},{"x":4040,"y":47},{"x":4140,"y":48},{"x":4450,"y":46},{"x":4670,"y":47},
{"x":30,"y":44},{"x":130,"y":45},{"x":220,"y":44},{"x":300,"y":43},{"x":400,"y":44},{"x":530,"y":45},{"x":620,"y":43},{"x":740,"y":44},{"x":870,"y":43},{"x":980,"y":44},{"x":1120,"y":43},{"x":1240,"y":42},{"x":1340,"y":44},{"x":1420,"y":45},{"x":1550,"y":43},{"x":1680,"y":44},{"x":1800,"y":45},{"x":1920,"y":44},{"x":2040,"y":43},{"x":2170,"y":44},{"x":2280,"y":43},{"x":2380,"y":42},{"x":2470,"y":44},{"x":2600,"y":45},{"x":2760,"y":44},{"x":2880,"y":43},{"x":2980,"y":42},{"x":3070,"y":44},{"x":3180,"y":43},{"x":3340,"y":44},{"x":3480,"y":43},{"x":3620,"y":44},{"x":3740,"y":42},{"x":3850,"y":45},{"x":4000,"y":44},{"x":4130,"y":43},{"x":4260,"y":45},{"x":4370,"y":44},{"x":4490,"y":43},{"x":4610,"y":44},
{"x":80,"y":40},{"x":170,"y":39},{"x":260,"y":41},{"x":350,"y":39},{"x":450,"y":40},{"x":580,"y":41},{"x":680,"y":39},{"x":800,"y":40},{"x":930,"y":39},{"x":1050,"y":40},{"x":1180,"y":39},{"x":1300,"y":40},{"x":1480,"y":41},{"x":1610,"y":39},{"x":1740,"y":40},{"x":1860,"y":39},{"x":1980,"y":41},{"x":2100,"y":39},{"x":2230,"y":40},{"x":2330,"y":39},{"x":2430,"y":40},{"x":2530,"y":41},{"x":2680,"y":39},{"x":2820,"y":40},{"x":2930,"y":39},{"x":3030,"y":40},{"x":3120,"y":39},{"x":3260,"y":40},{"x":3410,"y":39},{"x":3550,"y":40},{"x":3680,"y":41},{"x":3800,"y":39},{"x":3930,"y":40},{"x":4060,"y":39},{"x":4200,"y":41},{"x":4310,"y":39},{"x":4430,"y":40},{"x":4550,"y":39},
{"x":60,"y":5},{"x":190,"y":5},{"x":320,"y":5.5},{"x":450,"y":5},{"x":590,"y":5},{"x":720,"y":5},{"x":850,"y":5.5},{"x":980,"y":5},{"x":1110,"y":5},{"x":1240,"y":5},{"x":1370,"y":5.5},{"x":1500,"y":5},{"x":1630,"y":5},{"x":1760,"y":5},{"x":1890,"y":5},{"x":2020,"y":5.5},{"x":2150,"y":5},{"x":2280,"y":5},{"x":2410,"y":5},{"x":2540,"y":5.5},{"x":2670,"y":5},{"x":2800,"y":5},{"x":2930,"y":5},{"x":3060,"y":5.5},{"x":3190,"y":5},{"x":3320,"y":5},{"x":3450,"y":5},{"x":3580,"y":5.5},{"x":3710,"y":5},{"x":3840,"y":5},{"x":3970,"y":5},{"x":4100,"y":5.5},{"x":4230,"y":5},{"x":4360,"y":5},{"x":4490,"y":5},{"x":4620,"y":5},
{"x":4680,"y":40},{"x":4670,"y":32},{"x":4680,"y":25},{"x":4670,"y":18},{"x":4690,"y":11},{"x":4670,"y":5.5},{"x":10,"y":35},{"x":5,"y":25},{"x":0,"y":15}]
},
"layer":[
{"encoding":{"x":{"field":"x","type":"quantitative","title":"Power (MW)","scale":{"domain":[0,200],"range":[270,1379],"nice":false,"zero":false},"axis":{"orient":"bottom","offset":-1087,"values":[0,50,100,150,200],"labelFontSize":44,"labelPadding":15,"titlePadding":21,"titleX":759}},"y":{"field":"y","type":"quantitative","title":"Inlet temperature (°C)","scale":{"domain":[0,1500],"range":[818,47],"nice":false,"zero":false},"axis":{"orient":"left","offset":-270,"values":[0,200,400,600,800,1000,1200,1400],"labelFontSize":44,"labelPadding":14,"titlePadding":26,"titleY":460}}},
"layer":[
{"data":{"name":"aRect"},"mark":{"type":"rect","color":"black"},"encoding":{"x2":{"field":"x2"},"y2":{"field":"y2"}}},
{"data":{"name":"aBand"},"mark":{"type":"area","color":"black"},"encoding":{"y2":{"field":"y2"},"detail":{"field":"g"}}},
{"data":{"name":"aPts"},"mark":{"type":"circle","color":"black","opacity":1,"size":255}},
{"data":{"values":[{"x":25,"y":0,"y2":14},{"x":50,"y":0,"y2":23},{"x":75,"y":0,"y2":14},{"x":100,"y":0,"y2":23},{"x":125,"y":0,"y2":14},{"x":150,"y":0,"y2":23},{"x":175,"y":0,"y2":14}]},"mark":{"type":"rule"},"encoding":{"y2":{"field":"y2"}}},
{"data":{"values":[{"x":0,"x2":1.3,"y":100},{"x":0,"x2":2.2,"y":200},{"x":0,"x2":1.3,"y":300},{"x":0,"x2":2.2,"y":400},{"x":0,"x2":1.3,"y":500},{"x":0,"x2":2.2,"y":600},{"x":0,"x2":1.3,"y":700},{"x":0,"x2":2.2,"y":800},{"x":0,"x2":1.3,"y":900},{"x":0,"x2":2.2,"y":1000},{"x":0,"x2":1.3,"y":1100},{"x":0,"x2":2.2,"y":1200},{"x":0,"x2":1.3,"y":1300},{"x":0,"x2":2.2,"y":1400}]},"mark":{"type":"rule"},"encoding":{"x2":{"field":"x2"}}},
{"data":{"values":[{"x":150,"x2":187,"y":1202,"y2":1420}]},"mark":{"type":"rect","fill":null,"stroke":"#f5a552","strokeWidth":3.5},"encoding":{"x2":{"field":"x2"},"y2":{"field":"y2"}}},
{"data":{"values":[{"x":168.6,"y":1058,"y2":1175}]},"mark":{"type":"rule","color":"#f5a552","strokeWidth":3.5},"encoding":{"y2":{"field":"y2"}}},
{"data":{"values":[{"x":168.6,"y":1175}]},"mark":{"type":"point","shape":"triangle-up","filled":true,"color":"#f08a24","opacity":1,"size":110}},
{"data":{"values":[{"x":0,"x2":200,"y":0,"y2":1500}]},"mark":{"type":"rect","fill":null,"stroke":"#555555","strokeWidth":3.5},"encoding":{"x2":{"field":"x2"},"y2":{"field":"y2"}}},
{"data":{"values":[{"x":-34,"y":1432,"t":"(a)"}]},"mark":{"type":"text","font":"Liberation Sans","fontSize":82,"color":"#222222"},"encoding":{"text":{"field":"t"}}}
]},
{"encoding":{"x":{"field":"x","type":"quantitative","title":"Power (MW)","scale":{"domain":[150,185],"range":[716,1311],"nice":false,"zero":false},"axis":{"orient":"bottom","offset":-1204,"values":[150,160,170,180],"labelFontSize":26,"titleFontSize":27,"labelPadding":8,"titlePadding":15}},"y":{"field":"y","type":"quantitative","title":"Inlet temperature (°C)","scale":{"domain":[1245,1360],"range":[701,287],"nice":false,"zero":false},"axis":{"orient":"left","offset":-716,"values":[1250,1300,1350],"labelFontSize":26,"titleFontSize":27,"labelPadding":12,"titlePadding":16}}},
"layer":[
{"data":{"name":"iBand"},"mark":{"type":"area","color":"black"},"encoding":{"y2":{"field":"y2"},"detail":{"field":"g"}}},
{"data":{"name":"iPts"},"mark":{"type":"square","color":"black","opacity":1,"size":105}},
{"data":{"values":[{"x":155,"y":1245,"y2":1246.5},{"x":160,"y":1245,"y2":1247},{"x":165,"y":1245,"y2":1246.5},{"x":170,"y":1245,"y2":1247},{"x":175,"y":1245,"y2":1246.5},{"x":180,"y":1245,"y2":1247}]},"mark":{"type":"rule","strokeWidth":2},"encoding":{"y2":{"field":"y2"}}},
{"data":{"values":[{"x":150,"x2":150.4,"y":1250},{"x":150,"x2":150.25,"y":1275},{"x":150,"x2":150.4,"y":1300},{"x":150,"x2":150.25,"y":1325},{"x":150,"x2":150.4,"y":1350}]},"mark":{"type":"rule","strokeWidth":2},"encoding":{"x2":{"field":"x2"}}},
{"data":{"values":[{"x":150,"x2":185,"y":1245,"y2":1360}]},"mark":{"type":"rect","fill":null,"stroke":"#666666","strokeWidth":3},"encoding":{"x2":{"field":"x2"},"y2":{"field":"y2"}}}
]},
{"encoding":{"x":{"field":"x","type":"quantitative","title":"Operation (hours)","scale":{"domain":[0,17000],"range":[1635,2745],"nice":false,"zero":false},"axis":{"orient":"bottom","offset":-1087,"values":[0,3000,6000,9000,12000,15000],"labelFontSize":42,"labelPadding":15,"titlePadding":22}},"y":{"field":"y","type":"quantitative","title":"Temperature variation (°C)","scale":{"domain":[0,1400],"range":[818,45],"nice":false,"zero":false},"axis":{"orient":"left","offset":-1635,"values":[0,200,400,600,800,1000,1200,1400],"labelFontSize":42,"labelPadding":18,"titlePadding":35}}},
"layer":[
{"data":{"name":"bRect"},"mark":{"type":"rect","color":"black"},"encoding":{"x2":{"field":"x2"},"y2":{"field":"y2"}}},
{"data":{"name":"bPts"},"mark":{"type":"circle","color":"black","opacity":1,"size":340}},
{"data":{"values":[{"x":0,"x2":130,"y":100},{"x":0,"x2":200,"y":200},{"x":0,"x2":130,"y":300},{"x":0,"x2":200,"y":400},{"x":0,"x2":130,"y":500},{"x":0,"x2":200,"y":600},{"x":0,"x2":130,"y":700},{"x":0,"x2":200,"y":800},{"x":0,"x2":130,"y":900},{"x":0,"x2":200,"y":1000},{"x":0,"x2":130,"y":1100},{"x":0,"x2":200,"y":1200},{"x":0,"x2":130,"y":1300}]},"mark":{"type":"rule"},"encoding":{"x2":{"field":"x2"}}},
{"data":{"values":[{"x":0,"x2":17000,"y":0,"y2":1400}]},"mark":{"type":"rect","fill":null,"stroke":"#555555","strokeWidth":3.5},"encoding":{"x2":{"field":"x2"},"y2":{"field":"y2"}}},
{"data":{"values":[{"x":-2894,"y":1337,"t":"(b)"}]},"mark":{"type":"text","font":"Liberation Sans","fontSize":82,"color":"#222222"},"encoding":{"text":{"field":"t"}}}
]},
{"encoding":{"x":{"field":"x","type":"quantitative","title":"Operations (hours)","scale":{"domain":[-41,5000],"range":[272,1379],"nice":false,"zero":false},"axis":{"orient":"bottom","offset":-143,"values":[0,1000,2000,3000,4000,5000],"labelPadding":12,"titlePadding":16}},"y":{"field":"y","type":"quantitative","title":"Temperature variation (°C)","scale":{"domain":[-0.6,155],"range":[1762,987],"nice":false,"zero":false},"axis":{"orient":"left","offset":-272,"values":[0,20,40,60,80,100,120,140],"labelPadding":17,"titlePadding":23,"titleFontSize":47,"titleY":1405}}},
"layer":[
{"data":{"name":"cRect"},"mark":{"type":"rect","color":"black"},"encoding":{"x2":{"field":"x2"},"y2":{"field":"y2"}}},
{"data":{"name":"cPts"},"mark":{"type":"circle","color":"black","opacity":1,"size":330}},
{"data":{"values":[{"x":500,"y":-0.6,"y2":1},{"x":1000,"y":-0.6,"y2":2},{"x":1500,"y":-0.6,"y2":1},{"x":2000,"y":-0.6,"y2":2},{"x":2500,"y":-0.6,"y2":1},{"x":3000,"y":-0.6,"y2":2},{"x":3500,"y":-0.6,"y2":1},{"x":4000,"y":-0.6,"y2":2},{"x":4500,"y":-0.6,"y2":1}]},"mark":{"type":"rule"},"encoding":{"y2":{"field":"y2"}}},
{"data":{"values":[{"x":-41,"x2":-10,"y":10},{"x":-41,"x2":14,"y":20},{"x":-41,"x2":-10,"y":30},{"x":-41,"x2":14,"y":40},{"x":-41,"x2":-10,"y":50},{"x":-41,"x2":14,"y":60},{"x":-41,"x2":-10,"y":70},{"x":-41,"x2":14,"y":80},{"x":-41,"x2":-10,"y":90},{"x":-41,"x2":14,"y":100},{"x":-41,"x2":-10,"y":110},{"x":-41,"x2":14,"y":120},{"x":-41,"x2":-10,"y":130},{"x":-41,"x2":14,"y":140},{"x":-41,"x2":-10,"y":150}]},"mark":{"type":"rule"},"encoding":{"x2":{"field":"x2"}}},
{"data":{"values":[{"x":-41,"x2":5000,"y":-0.6,"y2":155}]},"mark":{"type":"rect","fill":null,"stroke":"#555555","strokeWidth":3.5},"encoding":{"x2":{"field":"x2"},"y2":{"field":"y2"}}},
{"data":{"values":[{"x":-902,"y":144.8,"t":"(c)"}]},"mark":{"type":"text","font":"Liberation Sans","fontSize":82,"color":"#222222"},"encoding":{"text":{"field":"t"}}}
]}
]}
